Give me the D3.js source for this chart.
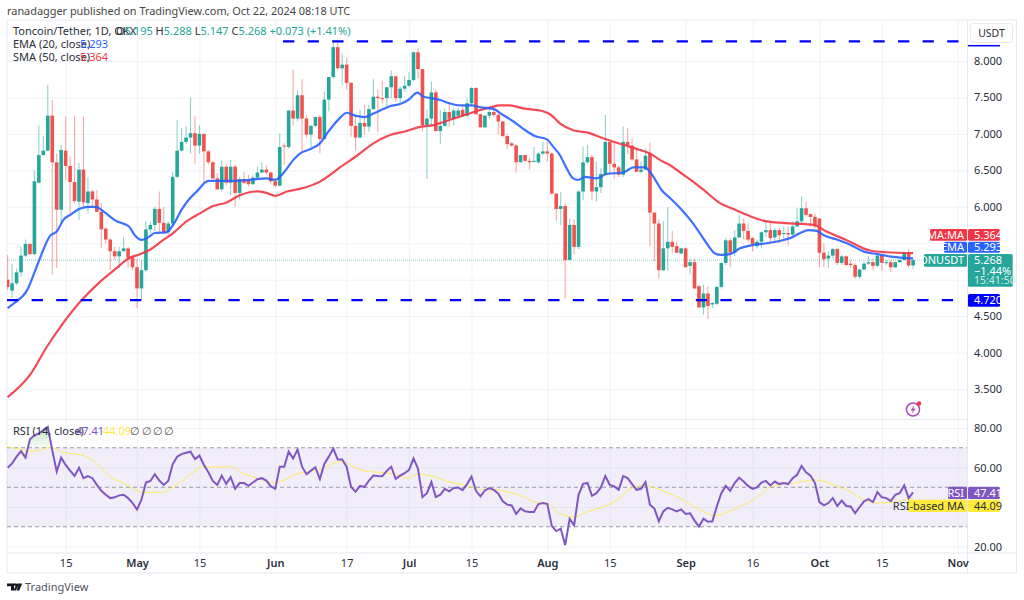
<!DOCTYPE html>
<html><head><meta charset="utf-8">
<script src="https://cdn.jsdelivr.net/npm/d3@7"></script>
<style>
html,body{margin:0;padding:0;background:#fff;overflow:hidden}
svg{display:block}
text{font-family:"Noto Sans",sans-serif;font-size:11px;fill:#2a2e39}
</style></head><body><svg id="c" width="1024" height="600"></svg>
<script>
const firstDay=-29;
const opens=[5.00,4.85,4.95,5.10,5.33,5.49,5.35,6.33,6.71,6.77,
7.25,6.61,5.96,6.77,6.56,6.34,6.07,6.51,6.05,6.21,
6.10,5.93,5.70,5.55,5.39,5.32,5.39,5.43,5.30,5.17,
4.88,5.13,5.69,5.75,5.97,5.78,5.65,5.77,6.41,6.77,
6.89,6.95,7.01,6.84,7.00,6.76,6.61,6.39,6.24,6.55,
6.33,6.55,6.19,6.38,6.37,6.31,6.40,6.47,6.51,6.47,
6.35,6.29,6.84,6.82,7.32,7.21,7.53,7.21,6.99,7.11,
7.23,6.93,7.47,7.78,8.19,
7.90,7.95,7.70,7.11,6.95,7.15,7.10,7.34,7.51,7.49,
7.49,7.64,7.79,7.49,7.62,7.66,7.74,8.12,7.89,7.12,
7.21,7.57,7.04,7.11,7.30,7.21,7.25,7.33,7.25,7.42,
7.63,7.27,7.09,7.25,7.30,7.26,7.17,6.97,6.87,6.84,
6.61,6.71,6.63,6.62,6.61,6.73,6.76,6.73,6.18,5.97,
6.01,5.27,5.75,5.45,6.21,6.61,6.68,6.21,6.27,6.45,
6.89,6.59,6.54,6.44,6.89,6.84,6.65,6.48,6.51,6.73,
5.92,5.77,5.13,5.43,5.52,5.46,5.36,5.43,5.19,5.24,
4.91,4.62,4.81,4.66,4.67,4.90,5.23,5.54,5.37,5.58,
5.77,5.67,5.57,5.46,5.52,5.65,5.68,5.58,5.68,5.63,
5.64,5.62,5.73,5.80,5.98,5.90,5.86,5.84,5.37,5.29,
5.33,5.42,5.23,5.32,5.22,5.20,5.04,5.14,5.22,5.24,
5.19,5.33,5.23,5.24,5.17,5.24,5.27,5.37,5.195];
const closes=[4.90,4.95,5.10,5.33,5.49,5.35,6.35,6.71,6.77,7.25,
6.61,5.96,6.78,6.56,6.34,6.08,6.51,6.06,6.21,6.10,
5.93,5.69,5.55,5.39,5.32,5.39,5.43,5.30,5.17,4.88,
5.13,5.69,5.75,5.97,5.78,5.65,5.77,6.41,6.77,6.89,
6.95,7.01,6.84,7.00,6.76,6.61,6.39,6.24,6.55,6.33,
6.55,6.19,6.38,6.33,6.31,6.40,6.47,6.51,6.47,6.35,
6.29,6.82,6.83,7.32,7.21,7.53,7.21,6.99,7.11,7.23,
6.93,7.47,7.78,8.19,7.90,
7.95,7.70,7.11,6.95,7.15,7.10,7.34,7.51,7.49,7.48,
7.64,7.79,7.49,7.62,7.66,7.74,8.12,7.89,7.12,7.21,
7.57,7.04,7.11,7.30,7.21,7.32,7.32,7.25,7.42,7.63,
7.27,7.09,7.25,7.30,7.26,7.17,6.97,6.86,6.84,6.61,
6.71,6.63,6.61,6.63,6.73,6.76,6.73,6.18,5.97,6.01,
5.27,5.75,5.45,6.21,6.61,6.68,6.21,6.27,6.45,6.89,
6.59,6.54,6.44,6.89,6.84,6.65,6.48,6.51,6.70,5.92,
5.77,5.13,5.43,5.52,5.45,5.37,5.43,5.17,5.24,4.88,
4.62,4.81,4.64,4.68,4.90,5.23,5.54,5.37,5.58,5.77,
5.67,5.55,5.49,5.52,5.65,5.68,5.57,5.68,5.61,5.64,
5.62,5.73,5.80,5.98,5.89,5.86,5.73,5.37,5.28,5.33,
5.42,5.23,5.32,5.20,5.20,5.04,5.14,5.22,5.24,5.19,
5.33,5.23,5.24,5.17,5.24,5.27,5.37,5.195,5.268];
const highs=[5.34,5.22,5.15,5.45,5.55,5.50,6.50,7.12,6.97,7.67,
7.47,6.73,6.85,7.24,6.69,7.24,6.60,7.24,6.41,6.23,
6.23,6.05,5.72,5.57,5.45,5.45,5.59,5.45,5.34,5.29,
5.27,5.80,5.80,6.00,6.21,6.00,5.80,6.48,7.19,7.08,
7.10,7.50,7.24,7.12,7.01,6.78,6.64,6.46,6.64,6.58,
6.64,6.58,6.41,6.48,6.44,6.44,6.55,6.61,6.57,6.48,
6.39,7.01,6.87,7.33,7.88,7.60,7.75,7.26,7.12,7.24,
7.26,7.58,7.78,8.28,8.29,
8.10,8.04,7.71,7.26,7.33,7.40,7.40,7.75,7.61,7.73,
7.64,7.87,7.79,7.65,7.79,7.85,8.12,8.17,7.89,7.33,
7.72,7.61,7.33,7.35,7.44,7.35,7.36,7.41,7.49,7.64,
7.64,7.28,7.26,7.35,7.38,7.33,7.18,7.00,6.89,6.86,
6.71,6.71,6.67,6.82,6.74,6.89,6.89,6.74,6.19,6.20,
6.05,5.84,5.83,6.22,6.83,6.85,6.71,6.62,6.53,7.26,
6.89,6.89,6.57,7.10,7.08,6.94,6.80,6.62,6.80,6.88,
5.92,5.83,5.80,5.99,5.67,5.52,5.44,5.44,5.29,5.29,
4.93,4.93,4.91,4.69,4.91,5.23,5.57,5.57,5.68,5.89,
5.84,5.77,5.59,5.55,5.66,5.82,5.80,5.71,5.71,5.73,
5.73,5.80,5.98,6.14,6.07,5.91,5.91,5.84,5.50,5.39,
5.43,5.43,5.34,5.33,5.27,5.23,5.14,5.25,5.32,5.29,
5.35,5.35,5.27,5.27,5.25,5.28,5.37,5.42,5.288];
const lows=[4.86,4.75,4.93,5.04,5.31,5.34,5.34,6.32,6.70,6.76,
5.07,5.16,5.77,6.37,5.90,6.05,5.82,6.00,5.91,6.00,
5.93,5.43,5.50,5.13,5.27,5.16,5.39,5.16,5.13,4.61,
4.72,5.11,5.64,5.66,5.66,5.64,5.61,5.75,6.39,6.76,
6.86,6.73,6.59,6.73,6.34,6.58,6.37,6.23,6.21,6.30,
6.16,6.00,6.10,6.31,6.28,6.30,6.37,6.46,6.44,6.32,
6.27,6.28,6.58,6.80,7.12,7.17,6.76,6.95,6.82,7.09,
6.73,6.92,7.31,7.76,7.88,
7.67,7.61,6.96,6.77,6.94,6.99,7.03,7.33,7.03,7.42,
7.37,7.49,7.44,7.43,7.58,7.64,7.73,7.76,7.03,6.38,
7.10,7.03,6.86,7.10,7.10,7.12,7.21,7.23,7.23,7.38,
7.26,7.09,7.08,7.21,7.23,6.99,6.95,6.79,6.83,6.47,
6.61,6.62,6.51,6.61,6.59,6.71,6.62,6.17,5.81,5.75,
4.74,5.27,5.35,5.42,6.09,6.59,6.10,6.07,6.19,6.44,
6.45,6.39,6.41,6.41,6.72,6.63,6.47,6.46,6.50,5.46,
5.25,5.01,5.12,5.12,5.37,5.36,5.35,5.17,5.07,4.87,
4.61,4.52,4.46,4.61,4.65,4.88,5.20,5.17,5.32,5.57,
5.55,5.52,5.39,5.43,5.43,5.59,5.52,5.52,5.50,5.57,
5.47,5.60,5.73,5.77,5.87,5.73,5.71,5.17,5.17,5.16,
5.29,5.20,5.20,5.19,5.16,5.01,5.01,5.13,5.20,5.13,
5.17,5.13,5.20,5.11,5.16,5.23,5.26,5.17,5.147];
const emaDays=[-29,-27.5,-24.6,-22.6,-21,-19.5,-18,-16.5,-14.7,-13,-10.7,-9.2,-7.4,-4.8,-1.8,-0.5,1,2.5,4,6.6,8.1,10,11.5,13.4,16,17.9,21.6,25.3,29,31,32.8,35,36.5,38.8,41,42.9,45.5,47,48.9,51,53,55.2,56.7,59,60.8,62.9,64.2,66,68,70,72.4,75,77,80,81.8,84.4,86.6,89.2,91.9,93.3,94.8,96.3,97.8,98.9,100.4,103,105.3,109,111.3,113.9,115,116.2,117.6,119.5,121.8,124.7,127.7,129.6,131,133,135.2,138.2,141.2,144,146.4,148.7,150.5,152.4,154,156.9,160,163,166,169,172,174];
const emaValues=[4.61,4.68,4.86,5.16,5.41,5.60,5.66,5.82,5.90,5.97,6.00,6.00,5.93,5.81,5.73,5.61,5.545,5.58,5.64,5.65,5.75,5.96,6.09,6.21,6.355,6.355,6.355,6.37,6.39,6.37,6.46,6.64,6.73,6.79,6.87,7.03,7.22,7.29,7.25,7.23,7.28,7.34,7.38,7.41,7.465,7.565,7.51,7.49,7.465,7.42,7.39,7.39,7.365,7.34,7.27,7.17,7.07,6.97,6.925,6.825,6.71,6.53,6.39,6.37,6.41,6.39,6.45,6.47,6.54,6.54,6.48,6.37,6.23,6.12,5.98,5.77,5.50,5.36,5.34,5.35,5.43,5.477,5.50,5.53,5.57,5.64,5.68,5.67,5.61,5.55,5.477,5.385,5.35,5.317,5.30,5.293];
const smaDays=[-29,-24,-20.2,-16.6,-12.4,-8.3,-4.6,-1.9,0.7,2.9,5.9,8.1,11.1,14.1,17.1,20.1,23.1,26.8,29,31,33.6,36.5,41,44,45.5,49.3,53,56.7,60.5,63,66.4,70,74,77,79,81.4,83.6,86.6,91,92.6,94.8,97.8,100.8,104.5,109,112.8,115,117.3,119.5,121.8,123.2,126.9,130.7,133.7,136.7,141.2,147.2,151.8,154.6,159,164.3,168,174];
const smaValues=[3.387,3.693,4.08,4.40,4.72,4.97,5.157,5.29,5.35,5.41,5.545,5.64,5.80,5.91,6.01,6.06,6.16,6.21,6.19,6.15,6.21,6.245,6.345,6.47,6.54,6.70,6.87,6.985,7.04,7.09,7.12,7.19,7.27,7.33,7.36,7.39,7.39,7.35,7.31,7.27,7.145,7.05,7.02,6.94,6.85,6.78,6.73,6.64,6.57,6.47,6.41,6.24,6.05,5.97,5.89,5.80,5.77,5.75,5.66,5.545,5.40,5.376,5.364];
const rsiValues=[59.9,62.1,65.5,68.3,65.0,74.3,76.3,77.2,78.9,80.5,68.8,57.9,65.0,61.3,58.4,55.7,59.9,54.6,55.7,54.6,51.2,48.2,46.2,44.5,44.9,45.9,46.2,44.5,42.0,38.7,
43.7,52.4,53.2,56.6,53.4,51.2,53.2,61.6,65.5,66.8,67.5,68.0,64.3,66.0,61.3,57.6,53.2,51.2,55.9,51.7,55.1,49.2,52.1,52.1,50.7,52.4,54.1,54.6,53.4,50.4,49.2,60.4,60.4,68.0,64.6,69.1,60.4,56.6,58.4,60.1,54.1,61.8,65.5,69.6,64.1,
64.1,60.4,50.1,47.7,50.7,50.1,53.4,55.9,55.7,55.6,58.3,60.4,54.2,55.9,57.1,58.8,64.6,59.3,45.0,47.0,52.6,45.0,46.2,49.2,47.9,49.6,49.9,48.5,51.6,55.4,48.2,45.4,48.4,49.6,48.7,46.7,42.9,41.2,40.8,36.5,39.3,37.8,37.5,37.5,41.5,42.0,41.5,30.3,27.8,29.0,20.7,34.0,30.8,46.2,51.7,52.2,45.7,47.0,49.9,55.7,51.2,50.4,48.7,55.6,54.6,51.6,48.7,49.2,52.6,41.2,39.2,32.8,37.8,39.6,38.8,37.8,
38.8,36.5,36.8,33.1,30.1,34.1,32.5,32.8,40.3,47.0,50.7,48.2,52.1,54.9,52.9,50.7,49.2,49.9,52.4,53.2,50.9,52.9,51.6,52.1,51.6,54.6,56.3,60.8,57.6,55.9,52.1,42.5,40.8,42.0,44.5,40.5,43.2,40.5,40.3,36.8,40.0,42.9,44.0,42.5,47.5,44.9,44.5,43.0,46.2,47.0,50.9,44.5,47.41];
const rsiMaDays=[-29,-26,-24,-21.7,-19.5,-16.5,-13,-10.5,-8.3,-5.7,-3,0,1.4,5.9,7.4,10.4,12.6,14.9,17.9,20.9,23.8,26.8,30.6,32.8,35.8,38.8,41.8,44,45.5,47.8,50.8,55.2,58.2,60.8,63,66,70.9,73.9,76.9,80.6,83.6,87.4,89.2,91.9,94.8,97.8,100.8,105.3,108.3,110.5,113.5,117.3,121.8,126.2,129.6,133.7,138.2,142.7,147.2,152.4,156,159.8,163.6,165.8,169.6,173.3,174];
const rsiMaValues=[70.5,69.1,68.3,68.8,70.2,67.6,66.6,64.6,60.4,54.9,52.1,48.2,47.4,47.5,49.2,53.7,57.6,60.4,60.1,60.4,57.1,54.6,52.4,53.4,56.8,57.9,59.6,62.1,63,61.3,58.3,57.4,56.3,54.6,56.6,55.7,52.1,50.9,48.7,48.7,47.4,44.5,42.5,42.0,36.6,35.0,37.5,40.8,44.5,49.2,50.9,48.7,44.2,38.7,35.6,38.7,43.7,50.7,52.1,53.7,51.2,47.9,42.9,42.0,42.3,44.2,44.09];
const priceTicks=[3.5,4,4.5,6,6.5,7,7.5,8];
const priceGrid=[3.5,4,4.5,5,5.5,6,6.5,7,7.5,8];
const rsiTicks=[20,60,80];
const rsiGrid=[20,40,60,80];
const rsiLevels=[70,50,30];
const timeTickDays=[-16,0,14,31,47,61,75,92,106,123,138,153,167,184];
const timeTickLabels=["15","May","15","Jun","17","Jul","15","Aug","15","Sep","16","Oct","15","Nov"];
const monthLabels=["May","Jun","Jul","Aug","Sep","Oct","Nov"];
const resistance=8.27, support=4.72, lastClose=5.268;

const UP="#26a69a",DN="#ef5350",BLUE="#2962ff",RED="#f23645",PUR="#7e57c2",YEL="#ffeb3b",LINE="#0000ff",GRID="#f2f3f8",BORDER="#e6e9f2";
const L=7,R=967.5,RR=1016.5,T=20,PB=419.5,RB=553,B=573;
const x=d3.scaleLinear().domain([0,184]).range([137,957.7]);
const y=d3.scaleLinear().domain([3.5,8]).range([389,61]);
const yr=d3.scaleLinear().domain([20,80]).range([546.5,428]);
const svg=d3.select("#c");
const defs=svg.append("defs");
defs.append("clipPath").attr("id","pp").append("rect").attr("x",L).attr("y",T).attr("width",R-L).attr("height",PB-T);
defs.append("clipPath").attr("id","rp").append("rect").attr("x",L).attr("y",PB).attr("width",R-L).attr("height",RB-PB);
const grad=defs.append("linearGradient").attr("id","ob").attr("x1",0).attr("x2",0).attr("y1",0).attr("y2",1);
grad.append("stop").attr("offset",0).attr("stop-color","#4caf50").attr("stop-opacity",.35);
grad.append("stop").attr("offset",1).attr("stop-color","#4caf50").attr("stop-opacity",.03);

// frame
svg.append("rect").attr("x",L).attr("y",T).attr("width",RR-L).attr("height",B-T).attr("fill","#fff").attr("stroke",BORDER).attr("stroke-width",1);

// grids via axes
const gridX=(top,bot)=>svg.append("g").attr("transform",`translate(0,${bot})`)
 .call(d3.axisBottom(x).tickValues(timeTickDays.filter(d=>x(d)<R)).tickSize(top-bot).tickFormat(""))
 .call(g=>{g.select(".domain").remove();g.selectAll("line").attr("stroke",GRID);});
gridX(T,PB);gridX(PB,RB);
svg.append("g").attr("transform",`translate(${L},0)`).call(d3.axisRight(y).tickValues(priceGrid).tickSize(R-L).tickFormat(""))
 .call(g=>{g.select(".domain").remove();g.selectAll("line").attr("stroke",GRID);});
svg.append("g").attr("transform",`translate(${L},0)`).call(d3.axisRight(yr).tickValues(rsiGrid).tickSize(R-L).tickFormat(""))
 .call(g=>{g.select(".domain").remove();g.selectAll("line").attr("stroke",GRID);});

// price pane
const pane=svg.append("g").attr("clip-path","url(#pp)");
const candles=opens.map((o,i)=>({d:firstDay+i,o,h:highs[i],l:lows[i],c:closes[i]}));
const col=d=>d.c>=d.o?UP:DN;
pane.append("line").attr("x1",L).attr("x2",R).attr("y1",y(lastClose)).attr("y2",y(lastClose)).attr("stroke",UP).attr("stroke-opacity",.55).attr("stroke-dasharray","1 1");
pane.selectAll("line.w").data(candles).join("line").attr("class","w")
 .attr("x1",d=>x(d.d)).attr("x2",d=>x(d.d)).attr("y1",d=>y(d.h)).attr("y2",d=>y(d.l))
 .attr("stroke",col).attr("stroke-opacity",.5).attr("stroke-width",1.1);
pane.selectAll("rect.b").data(candles).join("rect").attr("class","b")
 .attr("x",d=>x(d.d)-1.8).attr("width",3.6)
 .attr("y",d=>y(Math.max(d.o,d.c))).attr("height",d=>Math.max(1,Math.abs(y(d.o)-y(d.c))))
 .attr("fill",col);
const ln=(yy,xs)=>d3.line().x((v,i)=>x(xs[i])).y(v=>yy(v)).curve(d3.curveMonotoneX);
pane.append("path").attr("d",ln(y,smaDays)(smaValues)).attr("fill","none").attr("stroke",RED).attr("stroke-opacity",.9).attr("stroke-width",2.2);
pane.append("path").attr("d",ln(y,emaDays)(emaValues)).attr("fill","none").attr("stroke",BLUE).attr("stroke-opacity",.9).attr("stroke-width",2.2);
// horizontal levels
const dash=(p,x1,x2)=>pane.append("line").attr("x1",x1).attr("x2",x2).attr("y1",y(p)).attr("y2",y(p)).attr("stroke",LINE).attr("stroke-width",2.2).attr("stroke-dasharray","11.3 13.3");
dash(resistance,283,960);dash(support,7,954);

// rsi pane
const rp=svg.append("g").attr("clip-path","url(#rp)");
rp.append("rect").attr("x",L).attr("width",R-L).attr("y",yr(70)).attr("height",yr(30)-yr(70)).attr("fill",PUR).attr("fill-opacity",.1);
rp.selectAll("line.lv").data(rsiLevels).join("line").attr("class","lv").attr("x1",L).attr("x2",R).attr("y1",d=>yr(d)).attr("y2",d=>yr(d)).attr("stroke","#787b86").attr("stroke-opacity",.75).attr("stroke-dasharray","4 3");
const rsiDays=rsiValues.map((v,i)=>firstDay+i);
rp.append("path").attr("d",d3.area().x((v,i)=>x(rsiDays[i])).y0(yr(70)).y1(v=>yr(Math.max(70,v)))(rsiValues)).attr("fill","url(#ob)");
rp.append("path").attr("d",ln(yr,rsiMaDays)(rsiMaValues)).attr("fill","none").attr("stroke",YEL).attr("stroke-opacity",.8).attr("stroke-width",1);
rp.append("path").attr("d",d3.line().x((v,i)=>x(rsiDays[i])).y(v=>yr(v))(rsiValues)).attr("fill","none").attr("stroke",PUR).attr("stroke-width",2);

// separators
[[L,R,PB,PB],[L,RR,RB,RB],[R,R,T,B]].forEach(a=>svg.append("line").attr("x1",a[0]).attr("x2",a[1]).attr("y1",a[2]).attr("y2",a[3]).attr("stroke",BORDER));

// axes labels
svg.append("g").attr("transform",`translate(${L},${RB})`);
const ax=svg.append("g").attr("transform",`translate(0,${RB+3})`).call(d3.axisBottom(x).tickValues(timeTickDays).tickSize(0).tickFormat((d,i)=>timeTickLabels[i]));
ax.select(".domain").remove();
ax.selectAll("text").attr("dy",".7em").style("font-size","11px").style("font-weight",(d,i)=>monthLabels.includes(timeTickLabels[i])?"600":"400");
const rightAx=(scale,vals,fmt)=>{const g=svg.append("g").attr("transform",`translate(${R+6.5},0)`).call(d3.axisRight(scale).tickValues(vals).tickSize(0).tickFormat(d3.format(fmt)));g.select(".domain").remove();g.selectAll("text").attr("x",0).style("font-size","11px");};
rightAx(y,priceTicks,".3f");rightAx(yr,rsiTicks,".2f");

// USDT button and level stub
svg.append("line").attr("x1",968).attr("x2",1000).attr("y1",45.7).attr("y2",45.7).attr("stroke",LINE).attr("stroke-width",1.5);
svg.append("rect").attr("x",970.5).attr("y",23.5).attr("width",42).attr("height",19).attr("rx",3).attr("fill","#fff").attr("stroke",BORDER);
svg.append("text").attr("x",991.5).attr("y",37).attr("text-anchor","middle").style("font-size","10.5px").text("USDT");

// price tags
function tag(x0,x1,yy0,yy1,fill,txt,txtCol,anchor){
 svg.append("rect").attr("x",x0).attr("y",yy0).attr("width",x1-x0).attr("height",yy1-yy0).attr("rx",1.5).attr("fill",fill);
 if(txt) svg.append("text").attr("x",anchor==="end"?x1-3:x0+6).attr("y",(yy0+yy1)/2+4).attr("text-anchor",anchor||"start").style("fill",txtCol).style("font-size","11px").text(txt);
}
tag(930,967,229,240.7,RED,"SMA:MA","#fff","end");tag(968,1000,229,240.7,RED,"5.364","#fff");
tag(944,967,241.7,252.7,BLUE,"EMA","#fff","end");tag(968,1000,241.7,252.7,BLUE,"5.293","#fff");
tag(924,967,254,266.7,UP,"TONUSDT","#fff","end");tag(968,1012.7,254,286.7,UP,"","#fff");
[["5.268",264.5,"#fff"],["\u22121.44%",275.5,"#fff"],["15:41:50",285,"#cfeeea"]].forEach(a=>svg.append("text").attr("x",974).attr("y",a[1]-1).style("fill",a[2]).style("font-size",a[0]==="15:41:50"?"10.5px":"11px").text(a[0]));
tag(968,1000,294,306.7,LINE,"4.720","#fff");
tag(948,967,486.7,499,PUR,"RSI","#fff","end");tag(968,1000,486.7,499,PUR,"47.41","#fff");
tag(908,967,499.7,512,YEL,"RSI-based MA","#2a2e39","end");tag(968,1000,499.7,512,YEL,"44.09","#2a2e39");

// legends
const seg=(xx,yy,parts)=>{const t=svg.append("text").attr("x",xx).attr("y",yy);parts.forEach(p=>t.append("tspan").style("fill",p[1]).text(p[0]));};
svg.append("text").attr("x",7).attr("y",14.5).style("fill","#444").style("font-size","10.9px").text("ranadagger published on TradingView.com, Oct 22, 2024 08:18 UTC");
seg(13,35,[["Toncoin/Tether, 1D, OKX","#2a2e39"]]);
seg(116,35,[["O","#2a2e39"],["5.195",UP],[" H","#2a2e39"],["5.288",UP],[" L","#2a2e39"],["5.147",UP],[" C","#2a2e39"],["5.268",UP],[" +0.073 (+1.41%)",UP]]);
seg(13,48,[["EMA (20, close)","#2a2e39"]]);seg(80,48,[["5.293",BLUE]]);
seg(13,61,[["SMA (50, close)","#2a2e39"]]);seg(80,61,[["5.364",RED]]);
seg(13,435,[["RSI (14, close)","#2a2e39"]]);seg(76,435,[["47.41",PUR]]);seg(103,435,[["44.09",YEL]]);
[130,142,153,164].forEach(xx=>seg(xx,435,[["\u2205","#555"]]));

// icon
svg.append("circle").attr("cx",913).attr("cy",409.5).attr("r",6.5).attr("fill","#fff").attr("stroke","#ab47bc").attr("stroke-width",1.5);
svg.append("path").attr("d","M914.5 405 L910.5 410.5 L913 410.5 L911.5 414 L915.8 408.8 L913.3 408.8 Z").attr("fill","#ab47bc");
svg.append("circle").attr("cx",919).attr("cy",403.5).attr("r",2.2).attr("fill","#f23645");

// TV logo
svg.append("path").attr("d","M7 583.5h7v7h-3v-4.3h-4zM19 583.5l-3 7h-2.4l3-7z M15 585.8a1.3 1.3 0 1 1 .01 0z M19 583.5h3.2l-3 7h-2.6z").attr("fill","#131722");
svg.append("text").attr("x",25).attr("y",591).style("fill","#50535e").style("font-size","11px").text("TradingView");
</script></body></html>
